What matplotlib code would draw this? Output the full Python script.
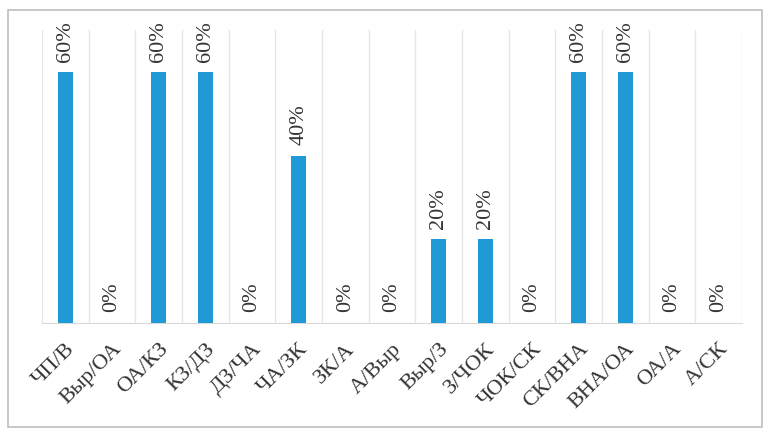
import numpy as np
import matplotlib.pyplot as plt
from matplotlib.patches import Rectangle

# Categories and shares
labels = ['ЧП/В', 'Выр/ОА', 'ОА/КЗ', 'КЗ/ДЗ', 'ДЗ/ЧА', 'ЧА/ЗК', 'ЗК/А', 'А/Выр',
          'Выр/З', 'З/ЧОК', 'ЧОК/СК', 'СК/ВНА', 'ВНА/ОА', 'ОА/А', 'А/СК']
values = [0.6, 0.0, 0.6, 0.6, 0.0, 0.4, 0.0, 0.0, 0.2, 0.2, 0.0, 0.6, 0.6, 0.0, 0.0]

plt.rcParams['font.family'] = ['Liberation Serif', 'DejaVu Serif']

fig = plt.figure(figsize=(7.68, 4.37), dpi=100)
ax = fig.add_axes([0.0547, 0.261, 0.9113, 0.670])

x = np.arange(len(labels))
ax.bar(x, values, width=0.32, color='#1F9AD6', zorder=3)

# Value labels above the bars, rotated
for xi, v in zip(x, values):
    ax.text(xi, v + 0.025, f'{v:.0%}', rotation=90, ha='center', va='bottom',
            fontsize=16, color='#333333', zorder=4)

ax.set_xlim(-0.5, len(labels) - 0.5)
ax.set_ylim(0, 0.7)

# Vertical separators between categories
for b in np.arange(-0.5, len(labels), 1.0):
    ax.axvline(b, color='#E6E6E6', linewidth=1, zorder=1)

ax.set_xticks(x)
ax.set_xticklabels(labels, rotation=45, ha='right', rotation_mode='anchor',
                   fontsize=16, color='#333333')
ax.tick_params(axis='x', length=0, pad=12)
ax.set_yticks([])
for s in ['top', 'left', 'right']:
    ax.spines[s].set_visible(False)
ax.spines['bottom'].set_color('#D9D9D9')

# Outer frame around the chart
fig.patches.append(Rectangle((8 / 768, 10 / 437), 754 / 768, 417 / 437,
                             transform=fig.transFigure, fill=False,
                             edgecolor='#BFBFBF', linewidth=1.2))

fig.savefig('out.png', dpi=100)
